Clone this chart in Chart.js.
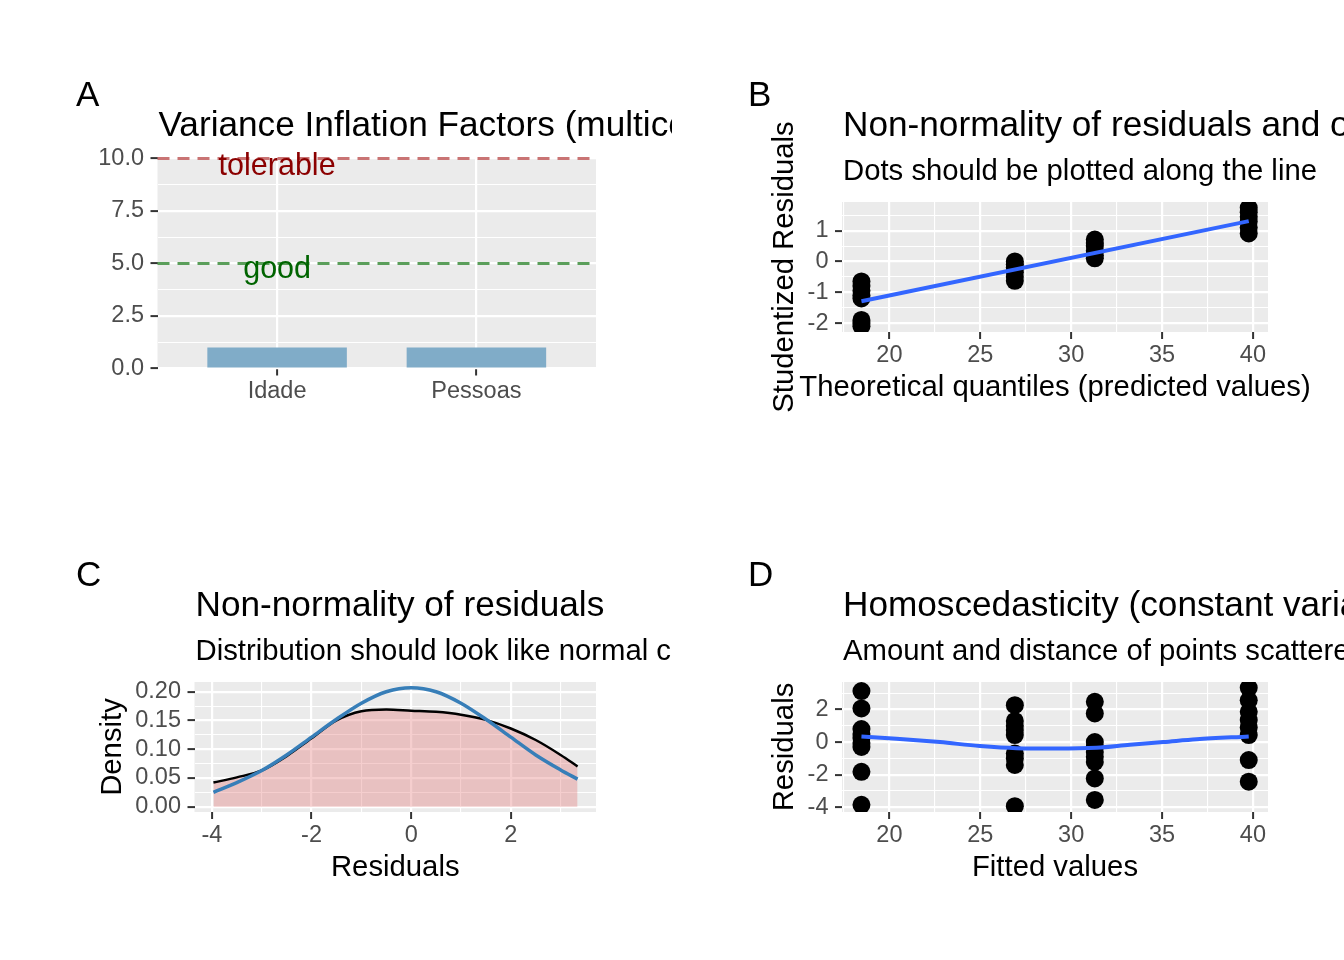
<!DOCTYPE html>
<html><head><meta charset="utf-8">
<script src="https://cdn.jsdelivr.net/npm/chart.js@4/dist/chart.umd.min.js"></script>
<style>
html,body{margin:0;padding:0;background:#fff;}
#wrap{position:relative;width:1344px;height:960px;overflow:hidden;background:#fff;}
canvas{position:absolute;}
</style></head><body>
<div id="wrap">
<canvas id="cA" width="672" height="480" style="left:0px;top:0px"></canvas>
<canvas id="cB" width="672" height="480" style="left:672px;top:0px"></canvas>
<canvas id="cC" width="672" height="480" style="left:0px;top:480px"></canvas>
<canvas id="cD" width="672" height="480" style="left:672px;top:480px"></canvas>
</div>
<script>
// ---------------- DATA ----------------
// Panel A: variance inflation factors
const vifCategories = ['Idade', 'Pessoas'];
const vifValues = [1.0, 1.0];
const vifThresholds = [5, 10];
const vifThresholdLabels = ['good', 'tolerable'];
const vifThresholdLabelY = [4.3, 9.2];
const vifYTicks = [0, 2.5, 5, 7.5, 10];
const vifYTickLabels = ['0.0', '2.5', '5.0', '7.5', '10.0'];
const vifYMinor = [1.25, 3.75, 6.25, 8.75];

// Panel B: studentized residuals vs predicted values
const qqFitted = [18.46, 18.46, 18.46, 18.46, 18.46, 18.46, 18.46, 18.46,
                  26.9, 26.9, 26.9, 26.9, 26.9, 26.9,
                  31.3, 31.3, 31.3, 31.3, 31.3, 31.3,
                  39.77, 39.77, 39.77, 39.77, 39.77, 39.77];
const qqResid = [-0.65, -0.8, -0.95, -1.1, -1.2, -1.9, -2.0, -2.1,
                 0.0, -0.1, -0.2, -0.35, -0.5, -0.63,
                 0.71, 0.6, 0.5, 0.35, 0.2, 0.1,
                 1.74, 1.6, 1.45, 1.3, 1.1, 0.91];
const qqLineX = [18.46, 39.77];
const qqLineY = [-1.29, 1.31];
const qqXTicks = [20, 25, 30, 35, 40];
const qqXTickLabels = ['20', '25', '30', '35', '40'];
const qqXMinor = [17.5, 22.5, 27.5, 32.5, 37.5];
const qqYTicks = [-2, -1, 0, 1];
const qqYTickLabels = ['-2', '-1', '0', '1'];
const qqYMinor = [-1.5, -0.5, 0.5, 1.5];

// Panel C: density of residuals and normal curve
const densX = [-3.97, -3.5, -3, -2.5, -2, -1.5, -1, -0.5, 0, 0.5, 1, 1.5, 2, 2.5, 3, 3.34];
const densY = [0.042, 0.051, 0.063, 0.088, 0.119, 0.150, 0.166, 0.169, 0.167, 0.165, 0.160, 0.151, 0.136, 0.116, 0.090, 0.070];
const normX = [-3.97, -3.5, -3, -2.5, -2, -1.5, -1, -0.5, 0, 0.5, 1, 1.5, 2, 2.5, 3, 3.34];
const normY = [0.025, 0.042, 0.063, 0.090, 0.121, 0.152, 0.180, 0.200, 0.207, 0.200, 0.180, 0.152, 0.121, 0.090, 0.064, 0.048];
const densXTicks = [-4, -2, 0, 2];
const densXTickLabels = ['-4', '-2', '0', '2'];
const densXMinor = [-3, -1, 1, 3];
const densYTicks = [0, 0.05, 0.10, 0.15, 0.20];
const densYTickLabels = ['0.00', '0.05', '0.10', '0.15', '0.20'];
const densYMinor = [0.025, 0.075, 0.125, 0.175];

// Panel D: residuals vs fitted
const rvFitted = [18.46, 18.46, 18.46, 18.46, 18.46, 18.46, 18.46, 18.46, 18.46,
                  26.9, 26.9, 26.9, 26.9, 26.9, 26.9, 26.9, 26.9, 26.9,
                  31.3, 31.3, 31.3, 31.3, 31.3, 31.3, 31.3, 31.3, 31.3,
                  39.77, 39.77, 39.77, 39.77, 39.77, 39.77, 39.77, 39.77];
const rvResid = [3.13, 2.07, 0.8, 0.5, 0.25, -0.05, -0.3, -1.82, -3.85,
                 2.27, 1.3, 1.0, 0.75, 0.43, -0.7, -1.0, -1.4, -3.93,
                 2.47, 1.76, 0.0, -0.3, -0.6, -0.9, -1.22, -2.23, -3.55,
                 3.33, 2.57, 1.86, 1.35, 0.9, 0.43, -1.1, -2.43];
const loessX = [18.46, 20.39, 22.78, 24.98, 26.99, 29.2, 31.4, 33.23, 35.07, 36.9, 39.77];
const loessY = [0.35, 0.21, 0.0, -0.24, -0.37, -0.39, -0.34, -0.16, 0.0, 0.17, 0.35];
const rvYTicks = [-4, -2, 0, 2];
const rvYTickLabels = ['-4', '-2', '0', '2'];
const rvYMinor = [-3, -1, 1, 3];

// ---------------- HELPERS ----------------
const FONT = '"Liberation Sans", Arial, Helvetica, sans-serif';
Chart.defaults.font.family = FONT;
Chart.defaults.animation = false;

function near(a, b) { return Math.abs(a - b) < 1e-9; }
function makeAxis(o) {
  const all = o.major.concat(o.minor || []).filter(v => v >= o.min - 1e-9 && v <= o.max + 1e-9).sort((a, b) => a - b);
  const isMajor = v => o.major.some(m => near(m, v));
  return {
    type: 'linear', position: o.pos, min: o.min, max: o.max, offset: false,
    afterBuildTicks: s => { s.ticks = all.map(v => ({ value: v })); },
    afterFit: s => { if (o.pos === 'left') s.width = o.size; else s.height = o.size; },
    ticks: {
      autoSkip: false, maxRotation: 0, minRotation: 0,
      padding: o.pos === 'left' ? 6.5 : 2.0, color: '#4d4d4d', font: { size: 23.5 },
      callback: v => { const i = o.major.findIndex(m => near(m, v)); return i >= 0 ? o.labels[i] : ''; }
    },
    grid: {
      color: '#ffffff', offset: false, drawTicks: true, tickLength: 7, tickWidth: 2,
      lineWidth: c => (c.tick && isMajor(c.tick.value)) ? 2.2 : 1.1,
      tickColor: c => (c.tick && isMajor(c.tick.value)) ? '#333333' : 'rgba(0,0,0,0)'
    },
    border: { display: false },
    title: { display: false }
  };
}
const panelBg = {
  id: 'panelBg',
  beforeDraw(chart) {
    const { ctx, chartArea: a } = chart;
    ctx.save(); ctx.fillStyle = '#ebebeb';
    ctx.fillRect(a.left, a.top, a.right - a.left, a.bottom - a.top);
    ctx.restore();
  }
};
function headings(letter, title, subtitle, xTitle, yTitle) {
  return {
    id: 'headings',
    afterDraw(chart) {
      const { ctx, chartArea: a } = chart;
      ctx.save();
      ctx.fillStyle = '#000000'; ctx.textAlign = 'left'; ctx.textBaseline = 'alphabetic';
      ctx.font = '35px ' + FONT; ctx.fillText(letter, 76, 106);
      ctx.font = '35.2px ' + FONT; ctx.fillText(title, a.left + 1, 135.5);
      if (subtitle) { ctx.font = '29.3px ' + FONT; ctx.fillText(subtitle, a.left + 1, 180); }
      ctx.font = '29.3px ' + FONT; ctx.textAlign = 'center'; ctx.textBaseline = 'middle';
      if (xTitle) ctx.fillText(xTitle, (a.left + a.right) / 2, 388);
      if (yTitle) {
        ctx.translate(112.5, (a.top + a.bottom) / 2);
        ctx.rotate(-Math.PI / 2);
        ctx.fillText(yTitle, 0, 0);
      }
      ctx.restore();
    }
  };
}
function baseOptions(area) {
  return {
    responsive: false, animation: false, events: [],
    layout: { autoPadding: false, padding: { left: 0, top: area.top, right: 672 - area.right, bottom: 0 } },
    plugins: { legend: { display: false }, tooltip: { enabled: false }, title: { display: false } }
  };
}
function pts(xs, ys) { return xs.map((x, i) => ({ x: x, y: ys[i] })); }

// ---------------- PANEL A ----------------
(function () {
  const area = { left: 157.5, right: 596, top: 158.5, bottom: 368.5 };
  const xMin = 0.4, xMax = 2.6;
  const threshColors = ['#5a9e5a', '#c97474'];
  const labelColors = ['#006400', '#8b0000'];
  const opts = baseOptions(area);
  opts.scales = {
    x: makeAxis({ pos: 'bottom', min: xMin, max: xMax, major: [1, 2], minor: [], labels: vifCategories, size: 480 - area.bottom }),
    y: makeAxis({ pos: 'left', min: 0, max: 10, major: vifYTicks, minor: vifYMinor, labels: vifYTickLabels, size: area.left })
  };
  const annot = {
    id: 'annot',
    afterDatasetsDraw(chart) {
      const { ctx, scales } = chart;
      ctx.save(); ctx.font = '30.5px ' + FONT; ctx.textAlign = 'center'; ctx.textBaseline = 'alphabetic';
      vifThresholdLabels.forEach((t, i) => {
        ctx.fillStyle = labelColors[i];
        ctx.fillText(t, scales.x.getPixelForValue(1), scales.y.getPixelForValue(vifThresholdLabelY[i]));
      });
      ctx.restore();
    }
  };
  new Chart(document.getElementById('cA'), {
    type: 'bar',
    data: {
      datasets: vifThresholds.map((t, i) => ({
        type: 'line', data: [{ x: xMin, y: t }, { x: xMax, y: t }], borderColor: threshColors[i],
        borderWidth: 2.8, borderDash: [12, 8], pointRadius: 0, clip: false, order: 0
      })).concat([{
        type: 'bar', data: vifCategories.map((c, i) => ({ x: i + 1, y: vifValues[i] })),
        backgroundColor: '#80acc8', borderWidth: 0, barPercentage: 0.7, categoryPercentage: 1.0, order: 2
      }])
    },
    options: opts,
    plugins: [panelBg, annot, headings('A', 'Variance Inflation Factors (multicollinearity)', null, null, null)]
  });
})();

// ---------------- PANEL B ----------------
(function () {
  const area = { left: 170, right: 596, top: 202, bottom: 332 };
  const opts = baseOptions(area);
  opts.scales = {
    x: makeAxis({ pos: 'bottom', min: 17.39, max: 40.83, major: qqXTicks, minor: qqXMinor, labels: qqXTickLabels, size: 480 - area.bottom }),
    y: makeAxis({ pos: 'left', min: -2.29, max: 1.93, major: qqYTicks, minor: qqYMinor, labels: qqYTickLabels, size: area.left })
  };
  new Chart(document.getElementById('cB'), {
    type: 'scatter',
    data: {
      datasets: [
        { type: 'line', data: pts(qqLineX, qqLineY), borderColor: '#3366ff', borderWidth: 4, pointRadius: 0, clip: 0, order: 0 },
        { type: 'scatter', data: pts(qqFitted, qqResid), backgroundColor: '#000000', borderWidth: 0, pointRadius: 9, clip: 0, order: 1 }
      ]
    },
    options: opts,
    plugins: [panelBg, headings('B', 'Non-normality of residuals and outliers', 'Dots should be plotted along the line',
      'Theoretical quantiles (predicted values)', 'Studentized Residuals')]
  });
})();

// ---------------- PANEL C ----------------
(function () {
  const area = { left: 194.5, right: 596, top: 202, bottom: 332 };
  const opts = baseOptions(area);
  opts.scales = {
    x: makeAxis({ pos: 'bottom', min: -4.35, max: 3.71, major: densXTicks, minor: densXMinor, labels: densXTickLabels, size: 480 - area.bottom }),
    y: makeAxis({ pos: 'left', min: -0.0092, max: 0.2169, major: densYTicks, minor: densYMinor, labels: densYTickLabels, size: area.left })
  };
  new Chart(document.getElementById('cC'), {
    type: 'line',
    data: {
      datasets: [
        { data: pts(normX, normY), borderColor: '#377eb8', borderWidth: 3.5, pointRadius: 0, fill: false, cubicInterpolationMode: 'monotone', clip: 0, order: 0 },
        { data: pts(densX, densY), borderColor: '#000000', borderWidth: 2.5, pointRadius: 0, fill: 'origin', backgroundColor: 'rgba(228,120,120,0.36)', cubicInterpolationMode: 'monotone', clip: 0, order: 1 }
      ]
    },
    options: opts,
    plugins: [panelBg, headings('C', 'Non-normality of residuals', 'Distribution should look like normal curve', 'Residuals', 'Density')]
  });
})();

// ---------------- PANEL D ----------------
(function () {
  const area = { left: 170, right: 596, top: 202, bottom: 332 };
  const opts = baseOptions(area);
  opts.scales = {
    x: makeAxis({ pos: 'bottom', min: 17.39, max: 40.83, major: qqXTicks, minor: qqXMinor, labels: qqXTickLabels, size: 480 - area.bottom }),
    y: makeAxis({ pos: 'left', min: -4.29, max: 3.69, major: rvYTicks, minor: rvYMinor, labels: rvYTickLabels, size: area.left })
  };
  new Chart(document.getElementById('cD'), {
    type: 'scatter',
    data: {
      datasets: [
        { type: 'line', data: pts(loessX, loessY), borderColor: '#3366ff', borderWidth: 4, pointRadius: 0, cubicInterpolationMode: 'monotone', clip: 0, order: 0 },
        { type: 'scatter', data: pts(rvFitted, rvResid), backgroundColor: '#000000', borderWidth: 0, pointRadius: 9, clip: 0, order: 1 }
      ]
    },
    options: opts,
    plugins: [panelBg, headings('D', 'Homoscedasticity (constant variance)', 'Amount and distance of points scattered above/below line is equal or randomly spread',
      'Fitted values', 'Residuals')]
  });
})();
</script>
</body></html>
